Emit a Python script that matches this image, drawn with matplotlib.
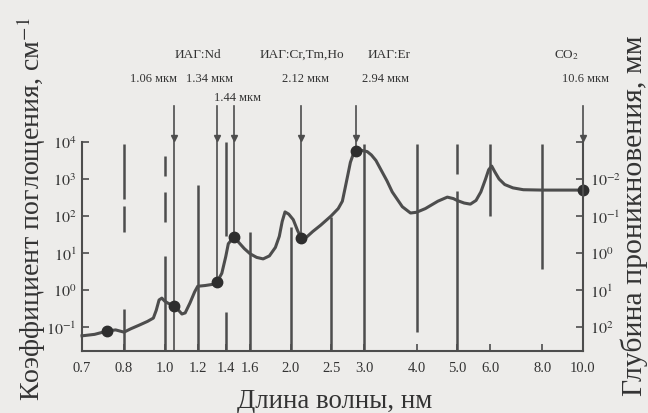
import numpy as np
import matplotlib
matplotlib.use("Agg")
import matplotlib.pyplot as plt

plt.rcParams['font.family'] = ['Liberation Serif', 'DejaVu Serif']
plt.rcParams['mathtext.fontset'] = 'stix'

# ---------------- data ----------------
# absorption curve of water: wavelength (um), log10(alpha, cm^-1)
wl = [0.70, 0.73, 0.76, 0.78, 0.80, 0.83, 0.87, 0.91, 0.94, 0.955, 0.97, 0.985,
      1.00, 1.02, 1.055, 1.08, 1.10, 1.12, 1.15, 1.18, 1.20, 1.25, 1.30, 1.335,
      1.37, 1.40, 1.42, 1.465, 1.50, 1.55, 1.60, 1.66, 1.72, 1.78, 1.84, 1.88,
      1.91, 1.94, 1.98, 2.03, 2.08, 2.12, 2.18, 2.26, 2.36, 2.50, 2.60, 2.66,
      2.70, 2.74, 2.78, 2.82, 2.86, 2.94, 3.05, 3.12, 3.20, 3.30, 3.40, 3.50,
      3.70, 3.87, 4.00, 4.20, 4.50, 4.74, 4.90, 5.00, 5.20, 5.38, 5.55, 5.70,
      5.85, 5.95, 6.05, 6.15, 6.30, 6.50, 6.80, 7.20, 8.00, 10.0]
log_alpha = [-1.24, -1.20, -1.11, -1.08, -1.14, -1.05, -0.95, -0.85, -0.76, -0.55, -0.27, -0.22,
             -0.30, -0.36, -0.43, -0.55, -0.65, -0.62, -0.35, -0.05, 0.10, 0.12, 0.15, 0.22,
             0.45, 0.90, 1.25, 1.43, 1.30, 1.12, 0.98, 0.88, 0.84, 0.92, 1.15, 1.45,
             1.85, 2.11, 2.05, 1.90, 1.60, 1.41, 1.42, 1.58, 1.75, 2.00, 2.20, 2.40,
             2.75, 3.10, 3.45, 3.65, 3.76, 3.78, 3.74, 3.65, 3.50, 3.22, 2.95, 2.65,
             2.25, 2.08, 2.10, 2.20, 2.40, 2.51, 2.47, 2.42, 2.35, 2.32, 2.42, 2.65,
             3.00, 3.25, 3.35, 3.20, 3.00, 2.85, 2.76, 2.71, 2.70, 2.70]

# laser points (um) on the curve and their log10(alpha)
dot_wl = [0.76, 1.055, 1.335, 1.465, 2.12, 2.86, 10.0]
dot_la = [-1.11, -0.43, 0.22, 1.43, 1.41, 3.76, 2.70]

# laser arrows: x position, log10(alpha) where the arrow ends
arrow_wl = [1.055, 1.335, 1.465, 2.12, 2.86, 10.0]
arrow_end = [-1.65, 0.22, 1.43, 1.41, 3.76, 2.70]

# vertical bars: wavelength, top, bottom (log10 alpha)
bar_wl = [0.8, 0.8, 0.8, 1.0, 1.0, 1.0, 1.2, 1.4, 1.4, 1.6, 2.0, 2.5,
          3.0, 4.0, 5.0, 5.0, 6.0, 8.0]
bar_top = [3.95, 2.27, -0.51, 3.62, 2.65, 0.92, 2.84, 4.0, -0.59, 1.57, 1.70, 1.97,
           3.95, 3.95, 3.95, 2.68, 3.95, 3.95]
bar_bot = [2.46, 1.57, -1.65, 3.08, 1.84, -1.65, -1.65, 1.46, -1.65, -1.65, -1.65, -1.65,
           -1.65, -1.14, 3.14, -1.65, 2.00, 0.57]

xticks = [0.7, 0.8, 1.0, 1.2, 1.4, 1.6, 2.0, 2.5, 3.0, 4.0, 5.0, 6.0, 8.0, 10.0]
xtick_labels = ['0.7', '0.8', '1.0', '1.2', '1.4', '1.6', '2.0', '2.5', '3.0',
                '4.0', '5.0', '6.0', '8.0', '10.0']
yticks_exp = [-1, 0, 1, 2, 3, 4]
depth_exp = [-3, -2, -1, 0, 1, 2]

laser_names = ['ИАГ:Nd', 'ИАГ:Cr,Tm,Ho', 'ИАГ:Er', 'CO$_2$']
laser_lines = ['1.06 мкм', '1.34 мкм', '2.12 мкм', '2.94 мкм', '10.6 мкм', '1.44 мкм']

# ---------------- style ----------------
BG = '#edecea'
INK = '#4d4d4d'
TXT = '#333333'
W, H = 648, 414

fig = plt.figure(figsize=(6.48, 4.14), dpi=100, facecolor=BG)
AX_L, AX_R, AX_B, AX_T = 82, 583, 352, 143
ax = fig.add_axes([AX_L / W, 1 - AX_B / H, (AX_R - AX_L) / W, (AX_B - AX_T) / H])
ax.set_facecolor(BG)

L08 = np.log10(0.8)
K = 1.005


def fwd(x):
    x = np.asarray(x, float)
    return np.where(x >= 0.8, np.log10(np.maximum(x, 0.8)), L08 - (0.8 - x) * K)


def inv(y):
    y = np.asarray(y, float)
    return np.where(y >= L08, 10 ** np.minimum(y, 30), 0.8 - (L08 - y) / K)


ax.set_xscale('function', functions=(fwd, inv))
ax.set_yscale('log')
ymin, ymax = 10 ** -1.65, 1e4
ax.set_xlim(0.7, 10.0)
ax.set_ylim(ymin, ymax)

# vertical bars
for x, t, b in zip(bar_wl, bar_top, bar_bot):
    ax.plot([x, x], [10 ** t, 10 ** b], color=INK, lw=1.8, solid_capstyle='butt', zorder=2)

# arrows from above
for x, e in zip(arrow_wl, arrow_end):
    ax.plot([x, x], [10 ** 4.97, 10 ** e], color=INK, lw=1.2, clip_on=False, zorder=2)
    ax.plot([x], [10 ** 4.12], marker='v', ms=4.5, color=INK, clip_on=False, zorder=3)

# absorption curve
ax.plot(wl, 10 ** np.array(log_alpha), color=INK, lw=2.2, zorder=4, clip_on=False,
        solid_joinstyle='round')
ax.plot(dot_wl, 10 ** np.array(dot_la), 'o', ms=7.5, color='#2e2e2e', zorder=5, clip_on=False)

# axes styling
for s in ['top', 'right']:
    ax.spines[s].set_visible(False)
for s in ['left', 'bottom']:
    ax.spines[s].set_color(INK)
    ax.spines[s].set_linewidth(1.5)

ax.set_xticks(xticks)
ax.set_xticklabels(xtick_labels)
ax.xaxis.set_minor_locator(matplotlib.ticker.NullLocator())
ax.set_yticks([10.0 ** e for e in yticks_exp])
ax.set_yticklabels(['$10^{%d}$' % e for e in yticks_exp])
ax.yaxis.set_minor_locator(matplotlib.ticker.NullLocator())
ax.tick_params(axis='x', direction='in', length=5, width=1.2, colors=INK,
               labelcolor=TXT, labelsize=10.5, pad=7)
ax.tick_params(axis='y', direction='in', length=5, width=1.2, colors=INK,
               labelcolor=TXT, labelsize=11.5, pad=4)

# right axis: penetration depth, mm = 10 / alpha
ax2 = ax.twinx()
ax2.set_yscale('log')
ax2.set_ylim(10 / ymin, 10 / ymax)
ax2.set_yticks([10.0 ** e for e in depth_exp])
ax2.set_yticklabels(['' if e == -3 else '$10^{%d}$' % e for e in depth_exp])
ax2.yaxis.set_minor_locator(matplotlib.ticker.NullLocator())
for s in ['top', 'left', 'bottom']:
    ax2.spines[s].set_visible(False)
ax2.spines['right'].set_color(INK)
ax2.spines['right'].set_linewidth(1.5)
ax2.tick_params(axis='y', direction='in', length=5, width=1.2, colors=INK,
                labelcolor=TXT, labelsize=11.5, pad=5)

# axis labels
xl = ax.set_xlabel('Длина волны, нм', fontsize=18, color=TXT)
xl.set_va('center')
ax.xaxis.set_label_coords((335 - AX_L) / (AX_R - AX_L), (AX_B - 402) / (AX_B - AX_T))
yl = ax.set_ylabel('Коэффициент поглощения, см$^{-1}$', fontsize=18, color=TXT)
yl.set_va('center')
ax.yaxis.set_label_coords((31 - AX_L) / (AX_R - AX_L), (AX_B - 209) / (AX_B - AX_T))
rl = ax2.set_ylabel('Глубина проникновения, мм', fontsize=18, color=TXT)
rl.set_va('center')
ax2.yaxis.set_label_coords((634 - AX_L) / (AX_R - AX_L), (AX_B - 216) / (AX_B - AX_T))

# fit the axis label sizes to the lengths seen in the reference
fig.canvas.draw()
r = fig.canvas.get_renderer()
for lab, target, horiz in [(xl, 196, True), (yl, 384, False), (rl, 360, False)]:
    bb = lab.get_window_extent(r)
    cur = bb.width if horiz else bb.height
    lab.set_fontsize(lab.get_fontsize() * target / cur)

# laser annotations
name_x = [198, 302, 389, 567]
for n, x in zip(laser_names, name_x):
    fig.text(x / W, 1 - 55 / H, n, ha='center', va='center', fontsize=9.5, color=TXT)
line_x = [153, 210, 306, 386, 585, 237]
line_y = [79, 79, 79, 79, 79, 98]
for t, x, y in zip(laser_lines, line_x, line_y):
    fig.text(x / W, 1 - y / H, t, ha='center', va='center', fontsize=9, color=TXT)

fig.savefig('out.png', dpi=100, facecolor=BG)
